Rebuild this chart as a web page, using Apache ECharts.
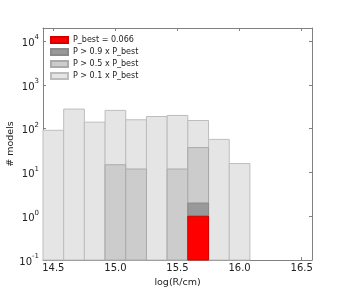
<!DOCTYPE html>
<html>
<head>
<meta charset="utf-8">
<script src="https://cdn.jsdelivr.net/npm/echarts@6/dist/echarts.min.js"></script>
<style>
  html, body { margin: 0; padding: 0; background: #fff; }
  #chart { width: 346px; height: 289px; }
</style>
</head>
<body>
<div id="chart"></div>
<script>
// histogram bin edges, log(R/cm)
const binEdges = [14.4167, 14.5833, 14.75, 14.9167, 15.0833, 15.25, 15.4167, 15.5833, 15.75, 15.9167, 16.0833]
// counts per bin for each probability cut
const countsP01 = [92, 281, 141, 262, 160, 190, 201, 154, 57, 16]
const countsP05 = [0, 0, 0, 15, 12, 0, 12, 37, 0, 0]
const countsP09 = [0, 0, 0, 0, 0, 0, 0, 2, 0, 0]
const countsBest = [0, 0, 0, 0, 0, 0, 0, 1, 0, 0]
const seriesNames = ['P_best = 0.066', 'P > 0.9 x P_best', 'P > 0.5 x P_best', 'P > 0.1 x P_best']
const xTicks = [14.5, 15.0, 15.5, 16.0, 16.5]

const X_MIN = 14.4167
const X_MAX = 16.5833
const Y_MIN = 0.1
const Y_MAX = 20000

const chart = echarts.init(document.getElementById('chart'))

// build [x0, x1, count] rows, skipping empty bins
const toBins = (counts) => {
  const rows = []
  counts.forEach((c, i) => {
    if (c > 0) rows.push([binEdges[i], binEdges[i + 1], c])
  })
  return rows
}

const renderBar = (params, api) => {
  const p0 = api.coord([api.value(0), api.value(2)])
  const p1 = api.coord([api.value(1), Y_MIN])
  return {
    type: 'rect',
    shape: { x: p0[0], y: p0[1], width: p1[0] - p0[0], height: p1[1] - p0[1] },
    style: api.style(),
  }
}

const histSeries = (name, counts, fill, edge) => ({
  type: 'custom',
  name: name,
  renderItem: renderBar,
  encode: { x: [0, 1], y: 2 },
  itemStyle: { color: fill, borderColor: edge, borderWidth: 1 },
  data: toBins(counts),
  z: 2,
})

const frameColor = '#808080'
const labelStyle = { color: '#222', fontSize: 10, fontFamily: 'DejaVu Sans' }

const option = {
  animation: false,
  backgroundColor: '#fff',
  grid: { left: 43, right: 34, top: 28, bottom: 29, containLabel: false, outerBoundsMode: 'none' },
  legend: {
    orient: 'vertical',
    left: 50,
    top: 36,
    padding: 0,
    itemWidth: 17,
    itemHeight: 6,
    itemGap: 4,
    icon: 'rect',
    textStyle: { color: '#222', fontSize: 8, fontFamily: 'DejaVu Sans' },
    data: seriesNames,
  },
  xAxis: [
    {
      type: 'value',
      min: X_MIN,
      max: X_MAX,
      name: 'log(R/cm)',
      nameLocation: 'middle',
      nameGap: 15,
      nameTextStyle: { color: '#222', fontSize: 9.5, fontFamily: 'DejaVu Sans' },
      axisLine: { show: true, lineStyle: { color: frameColor } },
      axisTick: { show: true, inside: true, length: 3, customValues: xTicks, lineStyle: { color: frameColor } },
      axisLabel: {
        ...labelStyle,
        margin: 3,
        customValues: xTicks,
        formatter: (v) => v.toFixed(1),
      },
      splitLine: { show: false },
    },
    {
      type: 'value',
      position: 'top',
      min: X_MIN,
      max: X_MAX,
      axisLine: { show: true, lineStyle: { color: frameColor } },
      axisTick: { show: true, inside: true, length: 3, customValues: xTicks, lineStyle: { color: frameColor } },
      axisLabel: { show: false },
      splitLine: { show: false },
    },
  ],
  yAxis: [
    {
      type: 'log',
      logBase: 10,
      min: Y_MIN,
      max: Y_MAX,
      name: '# models',
      nameLocation: 'middle',
      nameGap: 27,
      nameMoveOverlap: false,
      nameTextStyle: { color: '#222', fontSize: 9.5, fontFamily: 'DejaVu Sans' },
      axisLine: { show: true, lineStyle: { color: frameColor } },
      axisTick: { show: true, inside: true, length: 3, lineStyle: { color: frameColor } },
      minorTick: { show: false },
      axisLabel: {
        margin: 4,
        formatter: (v) => '{b|10}{s|' + Math.round(Math.log10(v)) + '}',
        rich: {
          b: { color: '#222', fontSize: 10, fontFamily: 'DejaVu Sans', lineHeight: 14, verticalAlign: 'bottom' },
          s: { color: '#222', fontSize: 7, fontFamily: 'DejaVu Sans', lineHeight: 14, verticalAlign: 'top' },
        },
      },
      splitLine: { show: false },
    },
    {
      type: 'log',
      logBase: 10,
      position: 'right',
      min: Y_MIN,
      max: Y_MAX,
      axisLine: { show: true, lineStyle: { color: frameColor } },
      axisTick: { show: true, inside: true, length: 3, lineStyle: { color: frameColor } },
      axisLabel: { show: false },
      splitLine: { show: false },
    },
  ],
  series: [
    histSeries(seriesNames[3], countsP01, '#e5e5e5', '#bdbdbd'),
    histSeries(seriesNames[2], countsP05, '#cccccc', '#aaaaaa'),
    histSeries(seriesNames[1], countsP09, '#999999', '#8a8a8a'),
    histSeries(seriesNames[0], countsBest, '#ff0000', '#d00000'),
  ],
}

chart.setOption(option)
</script>
</body>
</html>
